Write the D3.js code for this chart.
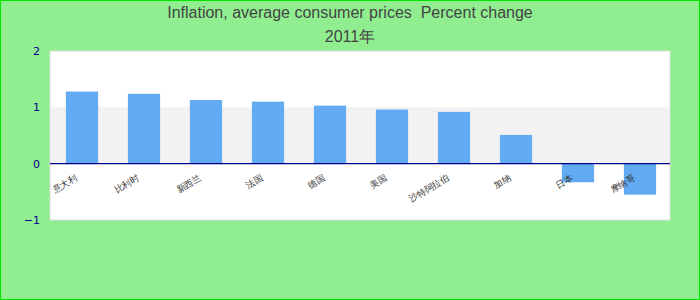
<!DOCTYPE html>
<html>
<head>
<meta charset="utf-8">
<script src="https://cdn.jsdelivr.net/npm/d3@7"></script>
<style>
  body { margin: 0; background: #fff; }
  svg { display: block; font-family: "Liberation Sans", Arial, sans-serif; }
</style>
</head>
<body>
<svg id="root"></svg>
<script>
// data
const titleLines = ["Inflation, average consumer prices  Percent change", "2011年"];
const countries = ["意大利", "比利时", "新西兰", "法国", "德国", "美国", "沙特阿拉伯", "加纳", "日本", "摩纳哥"];
const inflation = [1.28, 1.24, 1.13, 1.10, 1.03, 0.96, 0.92, 0.51, -0.33, -0.55];
const yTicks = [-1, 0, 1, 2];

const width = 700;
const height = 300;
const margin = { top: 51, left: 50, bottom: 80, right: 30 };

const svg = d3.select("#root").attr("width", width).attr("height", height);

svg.append("rect")
  .attr("x", 0.5).attr("y", 0.5)
  .attr("width", width - 1).attr("height", height - 1)
  .attr("fill", "#90ee90")
  .attr("stroke", "#00e600");

// bars sit one pixel right of the plot edge in the original
const x = d3.scaleBand()
  .domain(countries)
  .range([margin.left + 1, width - margin.right + 1])
  .paddingInner(0.48)
  .paddingOuter(0.24);

const y = d3.scaleLinear()
  .domain([-1, 2])
  .range([height - margin.bottom, margin.top]);

// plot area
svg.append("rect")
  .attr("x", margin.left).attr("y", y(2))
  .attr("width", width - margin.left - margin.right)
  .attr("height", y(-1) - y(2))
  .attr("fill", "#fff")
  .attr("stroke", "#dcdcdc");

// band between 0 and 1
svg.append("rect")
  .attr("x", margin.left + 1).attr("y", y(1))
  .attr("width", width - margin.left - margin.right - 2)
  .attr("height", y(0) - y(1))
  .attr("fill", "#f2f2f2");

// bars
svg.append("g")
  .selectAll("rect")
  .data(countries)
  .join("rect")
  .attr("x", (d) => x(d))
  .attr("width", x.bandwidth())
  .attr("y", (d, i) => y(Math.max(0, inflation[i])))
  .attr("height", (d, i) => Math.abs(y(inflation[i]) - y(0)))
  .attr("fill", "#62aaf2");

// zero line
svg.append("line")
  .attr("x1", margin.left).attr("x2", width - margin.right)
  .attr("y1", y(0)).attr("y2", y(0))
  .attr("stroke", "#00008b")
  .attr("stroke-width", 1.2);

// y axis labels
const yAxis = svg.append("g")
  .attr("transform", `translate(${margin.left}, 0)`)
  .call(d3.axisLeft(y).tickValues(yTicks).tickSize(0).tickPadding(10).tickFormat(d3.format("d")));
yAxis.select(".domain").remove();
yAxis.selectAll("text")
  .attr("fill", "#00008b")
  .style("font-size", "11px")
  .style("font-family", "\"DejaVu Sans\", sans-serif");

// category labels
svg.append("g")
  .selectAll("text")
  .data(countries)
  .join("text")
  .attr("transform", (d) => `translate(${x(d) + x.bandwidth() / 2 - 4}, ${y(0) + 16}) rotate(-30)`)
  .attr("text-anchor", "end")
  .style("font-size", "9px")
  .attr("fill", "#333")
  .text((d) => d);

// title
svg.append("g")
  .selectAll("text")
  .data(titleLines)
  .join("text")
  .attr("x", width / 2)
  .attr("y", (d, i) => 18 + i * 24)
  .attr("text-anchor", "middle")
  .attr("fill", "#444")
  .style("font-size", "16px")
  .style("white-space", "pre")
  .text((d) => d);
</script>
</body>
</html>
